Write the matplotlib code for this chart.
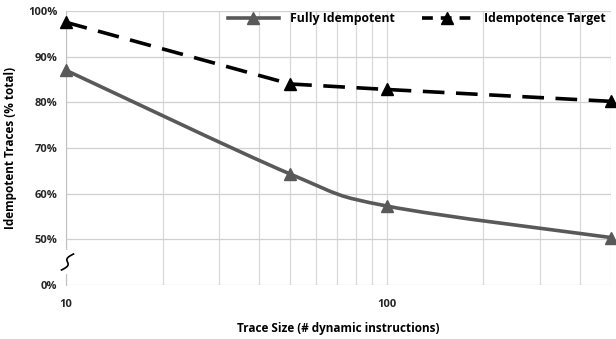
import numpy as np
import matplotlib.pyplot as plt
from matplotlib.path import Path
from matplotlib.patches import PathPatch
from matplotlib.lines import Line2D
from matplotlib.ticker import FixedLocator, NullFormatter

plt.rcParams['font.family'] = ['Open Sans', 'DejaVu Sans']
plt.rcParams['font.weight'] = 'bold'
plt.rcParams['axes.labelweight'] = 'bold'

trace_size = [10, 50, 100, 500]
fully_idem = [87.0, 64.3, 57.3, 50.4]
idem_target = [97.5, 84.0, 82.8, 80.2]
y_ticks = [40, 50, 60, 70, 80, 90, 100]
y_labels = ['0%', '50%', '60%', '70%', '80%', '90%', '100%']


def smooth_path(xs, ys):
    # Excel-style smoothed line: cubic Bezier through points, built in log-x space
    lx = np.log10(xs)
    ys = np.asarray(ys, dtype=float)
    n = len(lx)
    verts = [(xs[0], ys[0])]
    codes = [Path.MOVETO]
    for i in range(n - 1):
        p0 = (lx[max(i - 1, 0)], ys[max(i - 1, 0)])
        p1 = (lx[i], ys[i])
        p2 = (lx[i + 1], ys[i + 1])
        p3 = (lx[min(i + 2, n - 1)], ys[min(i + 2, n - 1)])
        c1 = (p1[0] + (p2[0] - p0[0]) / 6, p1[1] + (p2[1] - p0[1]) / 6)
        c2 = (p2[0] - (p3[0] - p1[0]) / 6, p2[1] - (p3[1] - p1[1]) / 6)
        for c in (c1, c2, p2):
            verts.append((10 ** c[0], c[1]))
            codes.append(Path.CURVE4)
    return Path(verts, codes)


fig = plt.figure(figsize=(6.16, 3.39), dpi=100)
ax = fig.add_axes([0.107, 0.159, 0.885, 0.809])
ax.set_xscale('log')
ax.set_xlim(10, 500)
ax.set_ylim(40, 100)

grey = '#595959'
ax.add_patch(PathPatch(smooth_path(trace_size, fully_idem), fill=False,
                       edgecolor=grey, lw=2.6, zorder=3, capstyle='butt'))
ax.plot(trace_size, idem_target, color='black', lw=2.6, zorder=3,
        linestyle=(0, (6, 3.2)))
ax.plot(trace_size, fully_idem, ls='none', marker='^', ms=9, color=grey,
        zorder=4, clip_on=False)
ax.plot(trace_size, idem_target, ls='none', marker='^', ms=9, color='black',
        zorder=4, clip_on=False)

ax.set_yticks(y_ticks)
ax.set_yticklabels(y_labels, fontweight='bold')
ax.xaxis.set_major_locator(FixedLocator([10, 100]))
ax.set_xticklabels(['10', '100'], fontweight='bold')
ax.xaxis.set_minor_locator(FixedLocator([20, 30, 40, 50, 60, 70, 80, 90, 200, 300, 400, 500]))
ax.xaxis.set_minor_formatter(NullFormatter())
ax.grid(True, which='both', axis='x', color='#d9d9d9', lw=0.9)
ax.grid(True, which='major', axis='y', color='#d0d0d0', lw=0.9)
ax.tick_params(which='both', length=0, labelsize=8, colors='#262626', pad=6)
ax.tick_params(axis='x', pad=10)
for s in ['top', 'right', 'bottom']:
    ax.spines[s].set_visible(False)
ax.spines['left'].set_color('#c0c0c0')
ax.spines['left'].set_zorder(1)
ax.set_axisbelow(True)

# axis break squiggle on the y axis
fig.add_artist(Line2D([66 / 616] * 2, [(339 - 272) / 339, (339 - 252) / 339],
                      color='white', lw=3))
t = np.linspace(0, 1, 50)
bx = 61.5 + 12 * t + 3.0 * np.sin(2 * np.pi * t)
by = 339 - (270 - 16 * t)
fig.add_artist(Line2D(bx / 616, by / 339, color='black', lw=1.2))

ax.set_ylabel('Idempotent Traces (% total)', fontsize=8.5, labelpad=8)
ax.set_xlabel('Trace Size (# dynamic instructions)', fontsize=8.5, labelpad=9)

h1 = Line2D([], [], color=grey, lw=2.6, marker='^', ms=9)
h2 = Line2D([], [], color='black', lw=2.6, marker='^', ms=9, linestyle=(0, (3, 2.2)))
ax.legend([h1, h2], ['Fully Idempotent', 'Idempotence Target'], ncol=2,
          loc='upper right', bbox_to_anchor=(1.01, 1.035), frameon=False,
          prop={'weight': 'bold', 'size': 8.8}, handlelength=4.2,
          columnspacing=2.2, handletextpad=0.9)

fig.savefig('out.png', dpi=100)
